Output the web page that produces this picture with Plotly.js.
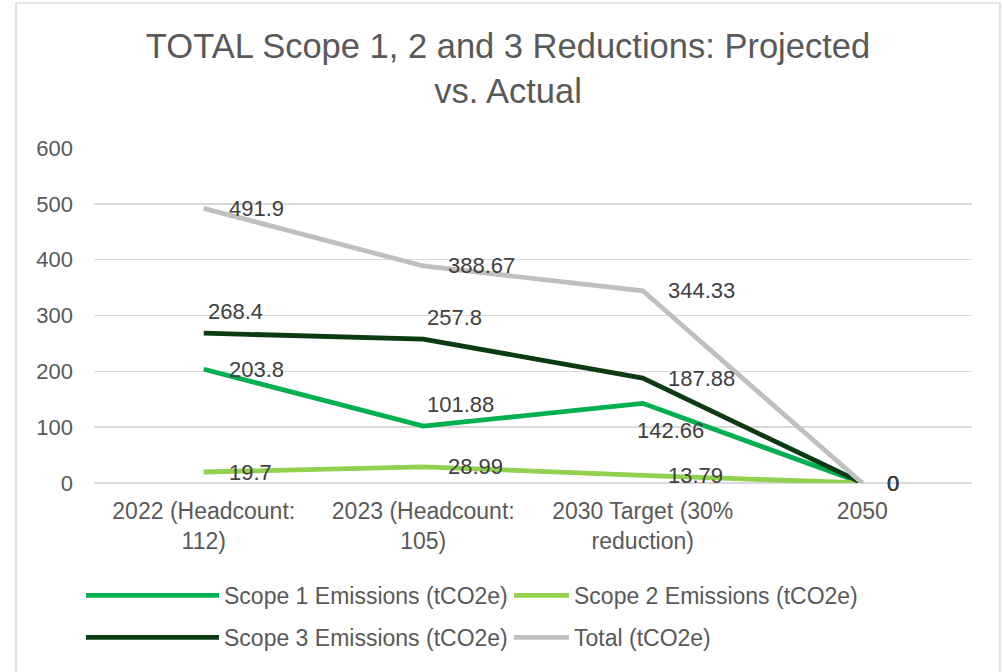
<!DOCTYPE html>
<html>
<head>
<meta charset="utf-8">
<script src="https://cdn.plot.ly/plotly-3.0.1.min.js"></script>
<style>html,body{margin:0;padding:0;background:#fff;}#chart{width:1002px;height:672px;}</style>
</head>
<body>
<div id="chart"></div>
<script>
// ---- Data ----
const categories = ["2022 (Headcount: 112)", "2023 (Headcount: 105)", "2030 Target (30% reduction)", "2050"];
const tickLabels = ["2022 (Headcount:<br>112)", "2023 (Headcount:<br>105)", "2030 Target (30%<br>reduction)", "2050"];
const scope1 = [203.8, 101.88, 142.66, 0];
const scope2 = [19.7, 28.99, 13.79, 0];
const scope3 = [268.4, 257.8, 187.88, 0];
const total  = [491.9, 388.67, 344.33, 0];
const seriesNames = ["Scope 1 Emissions (tCO2e)", "Scope 2 Emissions (tCO2e)", "Scope 3 Emissions (tCO2e)", "Total (tCO2e)"];

// ---- Styles ----
const colors = ["#00B050", "#92D050", "#0C3A12", "#BFBFBF"];
const legendOf = ["legend", "legend2", "legend", "legend2"];
// label placement per series/point: r = right, a = above, b = below
const labelPos = [
  ["r", "a", "b", "r"],
  ["r", "r", "r", "r"],
  ["a", "a", "r", "r"],
  ["r", "r", "r", "r"]
];
const FONT = "Liberation Sans, Arial, sans-serif";

const seriesValues = [scope1, scope2, scope3, total];
const traces = seriesValues.map((vals, k) => ({
  type: "scatter", mode: "lines",
  x: categories, y: vals, name: seriesNames[k],
  line: {color: colors[k], width: 4.8},
  legend: legendOf[k], legendgroup: "g" + k,
  hoverinfo: "skip"
}));

const annotations = [];
seriesValues.forEach((vals, k) => {
  vals.forEach((v, i) => {
    const p = labelPos[k][i];
    let xshift = 23, yshift = 0;
    if (p === "a") { xshift = 2; yshift = 22; }
    if (p === "b") { xshift = -8; yshift = -27; }
    annotations.push({
      x: i, y: v, xref: "x", yref: "y",   // category index of categories[i]
      text: String(v), showarrow: false,
      xanchor: "left", yanchor: "middle",
      xshift: xshift, yshift: yshift,
      font: {family: FONT, size: 22, color: "#404040"}
    });
  });
});

const layout = {
  width: 1002, height: 672,
  paper_bgcolor: "#ffffff", plot_bgcolor: "#ffffff",
  margin: {l: 94, r: 30, t: 148, b: 189, autoexpand: false},
  title: {
    text: "TOTAL Scope 1, 2 and 3 Reductions: Projected<br>vs. Actual",
    font: {family: FONT, size: 34.5, color: "#595959"},
    xref: "container", x: 0.507, xanchor: "center",
    yref: "container", y: 0.9135, yanchor: "top"
  },
  xaxis: {
    type: "category", range: [-0.5, 3.5],
    tickvals: categories, ticktext: tickLabels,
    showgrid: false, showline: false, zeroline: false, ticks: "",
    tickfont: {family: FONT, size: 23, color: "#595959"},
    tickangle: 0, automargin: false,
    ticklabelstandoff: 12, fixedrange: true
  },
  yaxis: {
    range: [0, 600], dtick: 100, tick0: 0,
    showgrid: true, gridcolor: "#D9D9D9", gridwidth: 1.5,
    zeroline: true, zerolinecolor: "#D9D9D9", zerolinewidth: 1.5,
    showline: false, ticks: "", automargin: false,
    tickfont: {family: FONT, size: 22, color: "#595959"},
    ticklabelstandoff: 20, fixedrange: true
  },
  showlegend: true,
  legend: {
    xref: "container", yref: "container", x: 81 / 1002, y: 0.1458,
    xanchor: "left", yanchor: "top", orientation: "v",
    itemwidth: 133, tracegroupgap: 9, bgcolor: "rgba(0,0,0,0)",
    font: {family: FONT, size: 23, color: "#595959"}
  },
  legend2: {
    xref: "container", yref: "container", x: 509 / 1002, y: 0.1458,
    xanchor: "left", yanchor: "top", orientation: "v",
    itemwidth: 55, tracegroupgap: 9, bgcolor: "rgba(0,0,0,0)",
    font: {family: FONT, size: 23, color: "#595959"}
  },
  shapes: [{
    type: "rect", xref: "paper", yref: "paper", layer: "below",
    x0: (16 - 94) / 878, x1: (1000 - 94) / 878,
    y0: (483 - 680) / 335, y1: (483 - 3) / 335,
    line: {color: "#D9D9D9", width: 1.5}, fillcolor: "rgba(0,0,0,0)"
  }],
  annotations: annotations,
  hovermode: false
};

Plotly.newPlot("chart", traces, layout, {displayModeBar: false, staticPlot: true});
</script>
</body>
</html>
